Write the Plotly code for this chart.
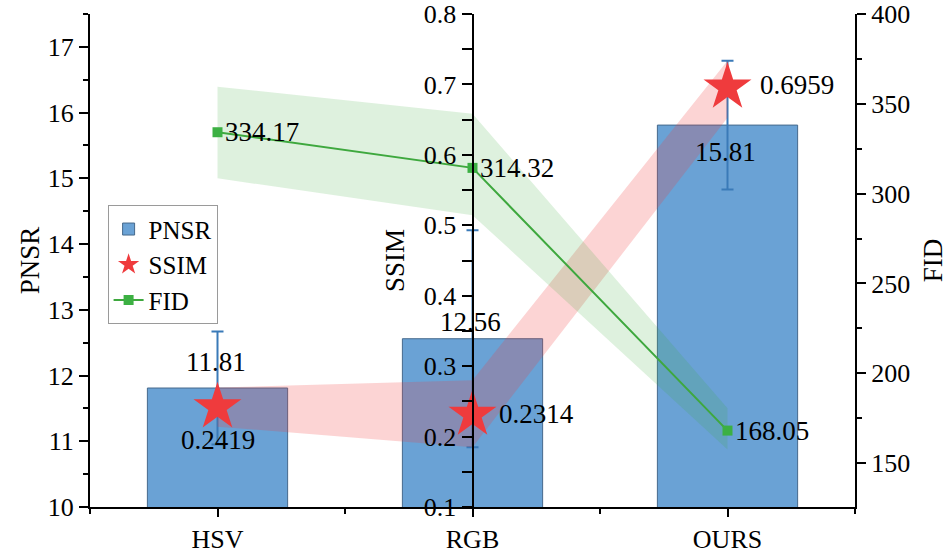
import plotly.graph_objects as go

categories = ["HSV", "RGB", "OURS"]
pnsr = [11.81, 12.56, 15.81]
pnsr_err = [0.86, 1.65, 0.98]
ssim = [0.2419, 0.2314, 0.6959]
ssim_upper = [0.2695, 0.280, 0.7335]
ssim_lower = [0.2141, 0.185, 0.6526]
fid = [334.17, 314.32, 168.05]
fid_upper = [359.5, 344.5, 180.5]
fid_lower = [308.5, 288.0, 157.5]

xpos = list(range(len(categories)))
FONT = "Liberation Serif, Times New Roman, serif"
BLUE = "#6aa2d5"
RED = "#ef3b3d"
GREEN = "#3ea83e"

fig = go.Figure()

fig.add_trace(go.Bar(
    x=xpos, y=pnsr, width=0.55, name="PNSR",
    marker=dict(color=BLUE, line=dict(color="#46698c", width=1)),
    error_y=dict(type="data", array=pnsr_err, color="#3a7ab8", thickness=2, width=6),
    yaxis="y",
))

# SSIM band
fig.add_trace(go.Scatter(x=xpos, y=ssim_upper, mode="lines", line=dict(width=0),
                         showlegend=False, hoverinfo="skip", yaxis="y2"))
fig.add_trace(go.Scatter(x=xpos, y=ssim_lower, mode="lines", line=dict(width=0),
                         fill="tonexty", fillcolor="rgba(240,60,60,0.22)",
                         showlegend=False, hoverinfo="skip", yaxis="y2"))
fig.add_trace(go.Scatter(
    x=xpos, y=ssim, mode="markers", name="SSIM",
    marker=dict(symbol="star", size=36, color=RED, line=dict(width=0)),
    yaxis="y2",
))

# FID band
fig.add_trace(go.Scatter(x=xpos, y=fid_upper, mode="lines", line=dict(width=0),
                         showlegend=False, hoverinfo="skip", yaxis="y3"))
fig.add_trace(go.Scatter(x=xpos, y=fid_lower, mode="lines", line=dict(width=0),
                         fill="tonexty", fillcolor="rgba(60,170,60,0.17)",
                         showlegend=False, hoverinfo="skip", yaxis="y3"))
fig.add_trace(go.Scatter(
    x=xpos, y=fid, mode="lines+markers", name="FID",
    line=dict(color=GREEN, width=2),
    marker=dict(symbol="square", size=10, color="#3cb043"),
    yaxis="y3",
))

LABEL_FONT = dict(size=27, family=FONT, color="black")
ann = []
# PNSR labels
pn_shift = [26, 17, -27]
for i, v in enumerate(pnsr):
    ann.append(dict(x=xpos[i], y=v, xref="x", yref="y", text=f"{v:.2f}",
                    showarrow=False, yshift=pn_shift[i], xshift=-2, font=LABEL_FONT))
# SSIM labels
ss_cfg = [(0, -33, "center"), (24, 0, "left"), (30, 2, "left")]
for i, v in enumerate(ssim):
    xs, ys, xa = ss_cfg[i]
    ann.append(dict(x=xpos[i], y=v, xref="x", yref="y2", text=f"{v:.4f}",
                    showarrow=False, xshift=xs, yshift=ys, xanchor=xa, font=LABEL_FONT))
# FID labels
for i, v in enumerate(fid):
    ann.append(dict(x=xpos[i], y=v, xref="x", yref="y3", text=f"{v:.2f}",
                    showarrow=False, xshift=5, yshift=0, xanchor="left", font=LABEL_FONT))

axis_font = dict(size=26, family=FONT, color="black")
title_font = dict(size=27, family=FONT, color="black")

fig.update_layout(
    width=949, height=553,
    margin=dict(l=90, r=94, t=14, b=46, autoexpand=False),
    paper_bgcolor="white", plot_bgcolor="white",
    font=dict(family=FONT, size=25, color="black"),
    showlegend=True,
    legend=dict(x=0.023, y=0.612, xanchor="left", yanchor="top",
                bordercolor="#9a9a9a", borderwidth=1, bgcolor="rgba(255,255,255,0)",
                font=dict(size=25, family=FONT, color="black"),
                itemsizing="trace", traceorder="normal", tracegroupgap=0),
    annotations=ann,
    xaxis=dict(
        range=[-0.5, 2.5], tickmode="array", tickvals=xpos, ticktext=categories,
        showline=True, linecolor="black", linewidth=2, ticks="outside", ticklen=8,
        tickwidth=2, tickcolor="black", showgrid=False, zeroline=False,
        tickfont=axis_font, automargin=False, ticklabeloverflow="allow",
        minor=dict(tick0=0, dtick=0.5, ticks="outside", ticklen=5, tickwidth=2,
                   tickcolor="black", showgrid=False),
    ),
    yaxis=dict(
        title=dict(text="PNSR", font=title_font, standoff=0),
        range=[10, 17.5], dtick=1, tick0=10, showline=True, linecolor="black", linewidth=2,
        ticks="outside", ticklen=9, tickwidth=2, tickcolor="black",
        showgrid=False, zeroline=False, tickfont=axis_font, automargin=False,
        ticklabeloverflow="allow",
        minor=dict(dtick=0.5, ticks="outside", ticklen=5, tickwidth=2, tickcolor="black", showgrid=False),
    ),
    yaxis2=dict(
        title=dict(text="SSIM", font=title_font, standoff=10),
        overlaying="y", anchor="free", position=0.5, side="left",
        range=[0.1, 0.8], dtick=0.1, tick0=0.1, tickformat=".1f",
        showline=True, linecolor="black", linewidth=2,
        ticks="outside", ticklen=10, tickwidth=2, tickcolor="black",
        showgrid=False, zeroline=False, tickfont=axis_font, automargin=False,
        ticklabeloverflow="allow",
        minor=dict(dtick=0.05, ticks="outside", ticklen=10, tickwidth=2, tickcolor="black", showgrid=False),
    ),
    yaxis4=dict(
        overlaying="y", anchor="free", position=0.5, side="right",
        range=[0.1, 0.8], dtick=0.1, tick0=0.1, showticklabels=False,
        showline=False, ticks="outside", ticklen=10, tickwidth=2, tickcolor="black",
        showgrid=False, zeroline=False, automargin=False,
        minor=dict(dtick=0.05, ticks="outside", ticklen=10, tickwidth=2, tickcolor="black", showgrid=False),
    ),
    yaxis3=dict(
        title=dict(text="FID", font=title_font, standoff=14),
        overlaying="y", anchor="x", side="right",
        range=[125.5, 400], dtick=50, tick0=0,
        showline=True, linecolor="black", linewidth=2,
        ticks="outside", ticklen=9, tickwidth=2, tickcolor="black",
        showgrid=False, zeroline=False, tickfont=axis_font, automargin=False,
        ticklabeloverflow="allow",
        minor=dict(dtick=25, ticks="outside", ticklen=5, tickwidth=2, tickcolor="black", showgrid=False),
    ),
)

fig.write_html("out.html", config={"displayModeBar": False},
               post_script="document.body.style.margin='0px';document.body.style.overflow='hidden';")
